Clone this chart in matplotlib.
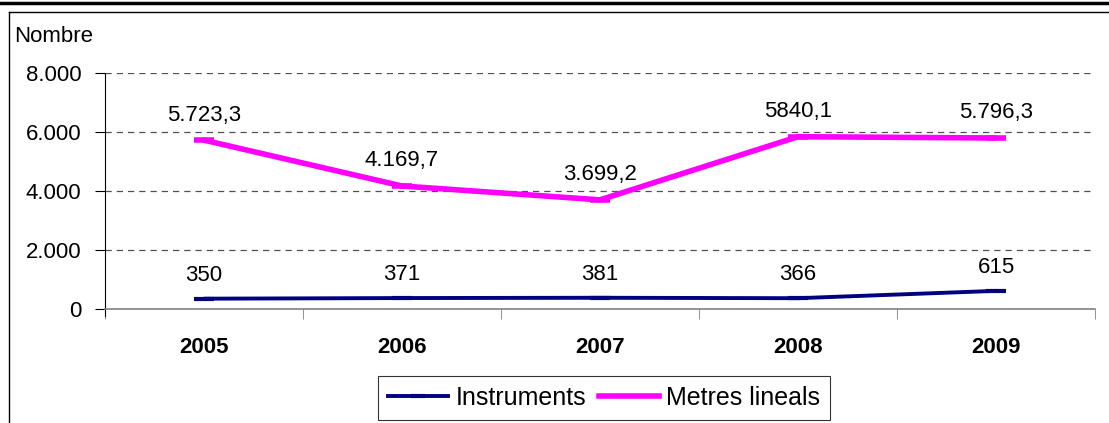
import matplotlib.pyplot as plt
from matplotlib.lines import Line2D

plt.rcParams['font.family'] = ['Liberation Sans', 'DejaVu Sans']

# data
years = ['2005', '2006', '2007', '2008', '2009']
instruments = [350, 371, 381, 366, 615]
metres = [5723.3, 4169.7, 3699.2, 5840.1, 5796.3]
instruments_labels = ['350', '371', '381', '366', '615']
metres_labels = ['5.723,3', '4.169,7', '3.699,2', '5840,1', '5.796,3']
y_ticks = [0, 2000, 4000, 6000, 8000]
y_tick_labels = ['0', '2.000', '4.000', '6.000', '8.000']

fig = plt.figure(figsize=(11.09, 4.23), dpi=100)
ax = fig.add_axes([0.0947, 0.2695, 0.8927, 0.558])

x = list(range(len(years)))
navy = '#000080'
pink = '#FF00FF'

# spines first (set_position resets the ticks)
for s in ['top', 'right']:
    ax.spines[s].set_visible(False)
ax.spines['bottom'].set_color('#808080')
ax.spines['bottom'].set_linewidth(1.2)
ax.spines['left'].set_color('black')
ax.spines['left'].set_position(('data', -0.5))
ax.spines['left'].set_bounds(-250, 8000)

ax.plot(x, instruments, color=navy, lw=2.8, marker='_', ms=14, mew=3,
        solid_capstyle='round', zorder=3)
ax.plot(x, metres, color=pink, lw=4, marker='_', ms=14, mew=4,
        solid_capstyle='round', zorder=3)

for xi, v, t in zip(x, instruments, instruments_labels):
    ax.annotate(t, (xi, v), xytext=(0, 17), textcoords='offset points',
                ha='center', va='center', fontsize=16)
for xi, v, t in zip(x, metres, metres_labels):
    ax.annotate(t, (xi, v), xytext=(0, 18), textcoords='offset points',
                ha='center', va='center', fontsize=16)

ax.set_xlim(-0.5, len(years) - 0.5)
ax.set_ylim(0, 8000)
ax.set_yticks(y_ticks)
ax.set_yticklabels(y_tick_labels)
ax.set_xticks(x)
ax.set_xticklabels(years, fontweight='bold')
ax.tick_params(axis='x', length=0, pad=20, labelsize=16)
ax.set_xticks([i - 0.5 for i in range(len(years) + 1)], minor=True)
ax.tick_params(axis='x', which='minor', length=7, color='#808080', direction='out')
ax.tick_params(axis='y', length=7, direction='out', pad=10, labelsize=16)

for v in y_ticks[1:]:
    ax.axhline(v, color='#505050', lw=0.9, ls=(0, (5, 4)), zorder=1)

fig.text(14 / 1109, 1 - 37 / 423, 'Nombre', fontsize=16, va='center', ha='left')

# outer frame lines
fig.add_artist(Line2D([0, 1], [1 - 3 / 423, 1 - 3 / 423], color='black', lw=2.5,
                      transform=fig.transFigure))
fig.add_artist(Line2D([9 / 1109, 1], [1 - 12 / 423, 1 - 12 / 423], color='black',
                      lw=1, transform=fig.transFigure))
fig.add_artist(Line2D([9 / 1109, 9 / 1109], [0, 1 - 12 / 423], color='black',
                      lw=1, transform=fig.transFigure))

handles = [Line2D([], [], color=navy, lw=2.8, marker='_', ms=10, mew=3),
           Line2D([], [], color=pink, lw=4)]
leg = fig.legend(handles, ['Instruments', 'Metres lineals'], loc='center',
                 bbox_to_anchor=(604 / 1109, 1 - 398 / 423), ncol=2,
                 fontsize=18, frameon=True, fancybox=False, edgecolor='black',
                 handlelength=2.4, handletextpad=0.3, columnspacing=0.5,
                 borderpad=0.4, borderaxespad=0)
leg.get_frame().set_linewidth(0.8)

fig.savefig('out.png', dpi=100)
